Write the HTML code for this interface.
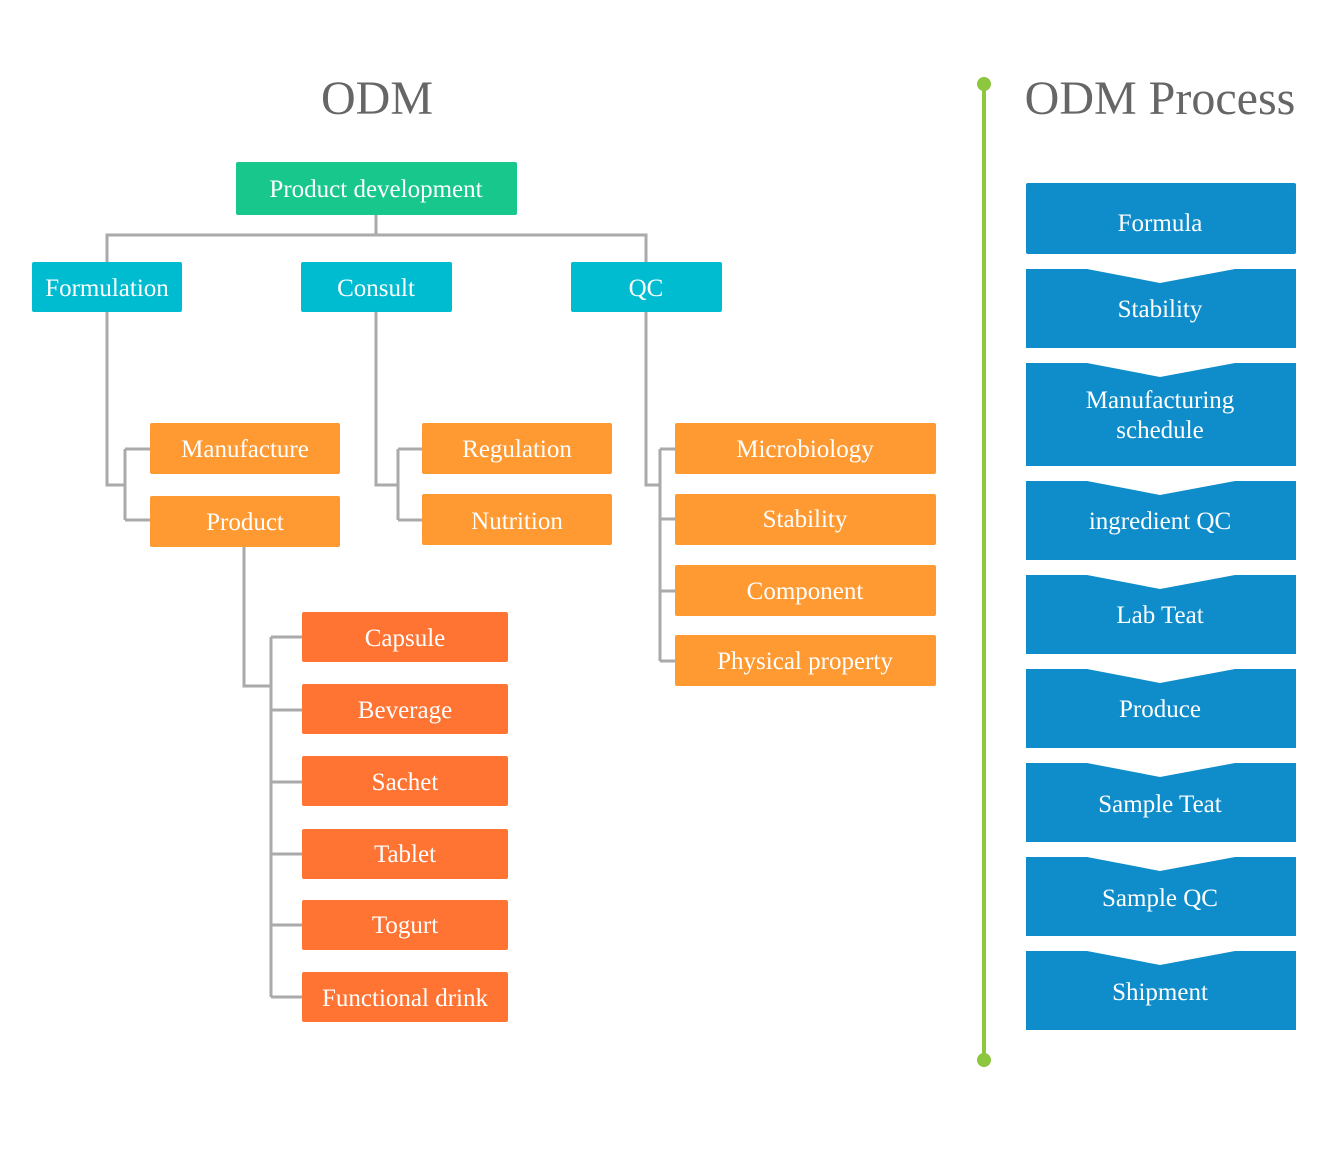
<!DOCTYPE html>
<html><head><meta charset="utf-8"><style>
html,body{margin:0;padding:0;background:#fff;}
svg text{font-family:"Liberation Serif",serif;}
</style></head><body>
<svg width="1330" height="1158" viewBox="0 0 1330 1158" xmlns="http://www.w3.org/2000/svg">
<g fill="none" stroke="#aaaaaa" stroke-width="3">
<path d="M376 215V235M107 262V235H646V262"/>
<path d="M107 312V485H125M125 449V520M125 449H150M125 520H150"/>
<path d="M376 312V485H398M398 449V520M398 449H422M398 520H422"/>
<path d="M646 312V485H660M660 449V661M660 449H675M660 519H675M660 591H675M660 661H675"/>
<path d="M244 547V686H271M271 637V997M271 637H302M271 710H302M271 782H302M271 854H302M271 925H302M271 997H302"/>
</g>
<text x="377" y="114" font-size="48" fill="#666" text-anchor="middle">ODM</text>
<text x="1160" y="114" font-size="48" fill="#666" text-anchor="middle">ODM Process</text>
<g font-size="25" fill="#fff" text-anchor="middle">
<rect x="236" y="162" width="281" height="53" rx="2" fill="#18c78b"/><text x="376" y="197">Product development</text>
<rect x="32" y="262" width="150" height="50" rx="2" fill="#00bcd0"/><text x="107" y="296">Formulation</text>
<rect x="301" y="262" width="151" height="50" rx="2" fill="#00bcd0"/><text x="376" y="296">Consult</text>
<rect x="571" y="262" width="151" height="50" rx="2" fill="#00bcd0"/><text x="646" y="296">QC</text>
<g fill="#ff9a33">
<rect x="150" y="423" width="190" height="51" rx="2"/><rect x="150" y="496" width="190" height="51" rx="2"/>
<rect x="422" y="423" width="190" height="51" rx="2"/><rect x="422" y="494" width="190" height="51" rx="2"/>
<rect x="675" y="423" width="261" height="51" rx="2"/><rect x="675" y="494" width="261" height="51" rx="2"/>
<rect x="675" y="565" width="261" height="51" rx="2"/><rect x="675" y="635" width="261" height="51" rx="2"/>
</g>
<text x="245" y="457">Manufacture</text><text x="245" y="530">Product</text>
<text x="517" y="457">Regulation</text><text x="517" y="529">Nutrition</text>
<text x="805" y="457">Microbiology</text><text x="805" y="527">Stability</text>
<text x="805" y="599">Component</text><text x="805" y="669">Physical property</text>
<g fill="#ff7333">
<rect x="302" y="612" width="206" height="50" rx="2"/><rect x="302" y="684" width="206" height="50" rx="2"/>
<rect x="302" y="756" width="206" height="50" rx="2"/><rect x="302" y="829" width="206" height="50" rx="2"/>
<rect x="302" y="900" width="206" height="50" rx="2"/><rect x="302" y="972" width="206" height="50" rx="2"/>
</g>
<text x="405" y="646">Capsule</text><text x="405" y="718">Beverage</text><text x="405" y="790">Sachet</text>
<text x="405" y="862">Tablet</text><text x="405" y="933">Togurt</text><text x="405" y="1006">Functional drink</text>
<g fill="#0f8dcb">
<rect x="1026" y="183" width="270" height="71" rx="2"/>
<path d="M1026 269H1087L1160 283L1235 269H1296V348H1026Z"/>
<path d="M1026 363H1087L1160 377L1235 363H1296V466H1026Z"/>
<path d="M1026 481H1087L1160 495L1235 481H1296V560H1026Z"/>
<path d="M1026 575H1087L1160 589L1235 575H1296V654H1026Z"/>
<path d="M1026 669H1087L1160 683L1235 669H1296V748H1026Z"/>
<path d="M1026 763H1087L1160 777L1235 763H1296V842H1026Z"/>
<path d="M1026 857H1087L1160 871L1235 857H1296V936H1026Z"/>
<path d="M1026 951H1087L1160 965L1235 951H1296V1030H1026Z"/>
</g>
<text x="1160" y="231">Formula</text>
<text x="1160" y="317">Stability</text>
<text x="1160" y="408">Manufacturing</text>
<text x="1160" y="438">schedule</text>
<text x="1160" y="529">ingredient QC</text>
<text x="1160" y="623">Lab Teat</text>
<text x="1160" y="717">Produce</text>
<text x="1160" y="812">Sample Teat</text>
<text x="1160" y="906">Sample QC</text>
<text x="1160" y="1000">Shipment</text>
</g>
<line x1="984" y1="84" x2="984" y2="1060" stroke="#8dc63f" stroke-width="4"/>
<circle cx="984" cy="84" r="7" fill="#8dc63f"/>
<circle cx="984" cy="1060" r="7" fill="#8dc63f"/>
</svg>
</body></html>
